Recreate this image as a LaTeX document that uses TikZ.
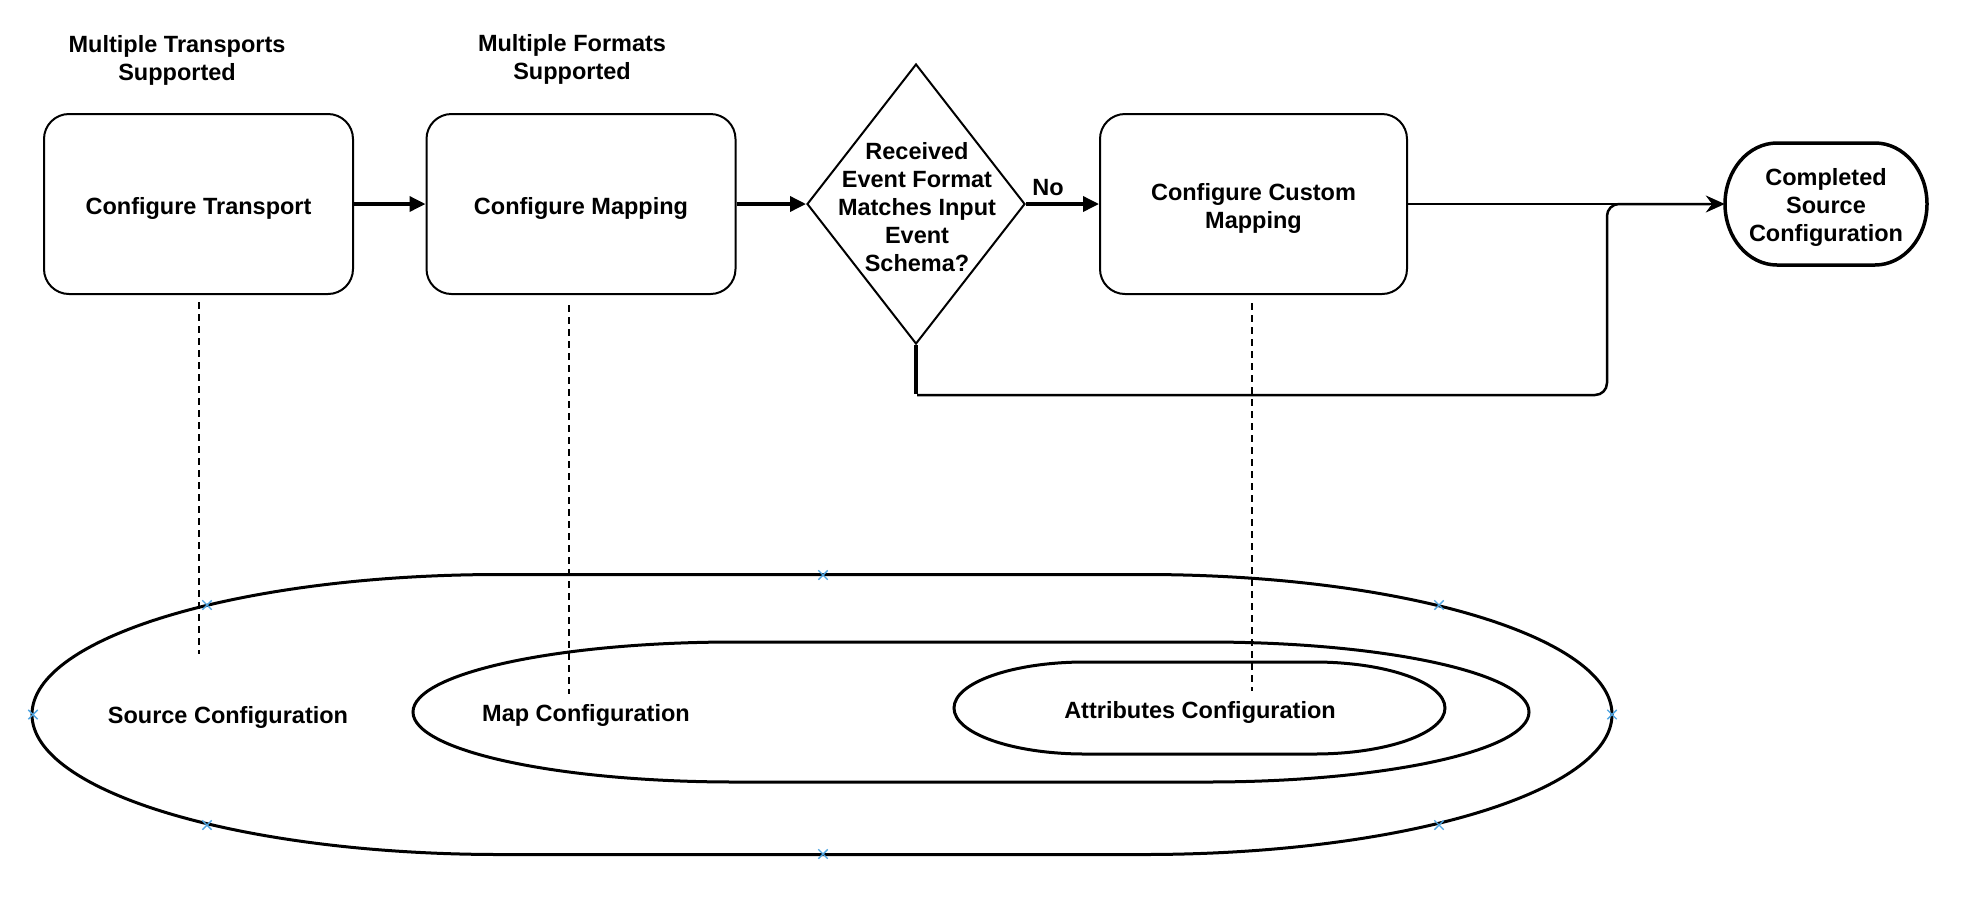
\documentclass[tikz,border=0pt]{standalone}
\usepackage{fontspec}
\setmainfont{Liberation Sans}
\usetikzlibrary{shapes.geometric,shapes.misc,arrows.meta,calc}
\definecolor{crosscol}{RGB}{80,165,225}
\begin{document}
\begin{tikzpicture}[x=1pt,y=-1pt,
  every node/.style={font=\fontsize{23.5pt}{28pt}\selectfont\bfseries, align=center},
  procbox/.style={draw, line width=2pt, rounded corners=25pt, minimum width=309pt, minimum height=180pt, inner sep=0pt},
  flowarrow/.style={line width=3.5pt, -{Triangle[length=16pt,width=15pt]}},
  guide/.style={line width=1.4pt, dash pattern=on 7pt off 5pt},
  setline/.style={line width=3pt},
  loopline/.style={line width=2.5pt},
  pointmark/.style={cross out, draw=crosscol, line width=1.4pt, minimum size=8pt, inner sep=0pt}
]
\useasboundingbox (0,0) rectangle (1984,922);

% headers
\node (hdr1) at (177,60) {Multiple Transports\\Supported};
\node (hdr2) at (572,59) {Multiple Formats\\Supported};

% flow nodes
\node[procbox] (box1) at (198.5,204) {};
\node (box1t) at ([yshift=-4pt]box1.center) {Configure Transport};
\node[procbox] (box2) at (581,204) {};
\node (box2t) at ([yshift=-4pt]box2.center) {Configure Mapping};
\node[diamond, draw, line width=2pt, minimum width=218pt, minimum height=280pt, inner sep=0pt] (dec) at (916,204) {};
\node (dectxt) at (917,207) {Received\\Event Format\\Matches Input\\Event\\Schema?};
\node[procbox, minimum width=307pt] (box3) at (1253.5,204) {};
\node (box3t) at ([yshift=-4pt]box3.center) {Configure Custom\\Mapping};
\node[minimum width=202pt, minimum height=122pt, inner sep=0pt] (endn) at (1826,204) {};
\node (endt) at ([yshift=-3pt]endn.center) {Completed\\Source\\Configuration};
\draw[line width=3.5pt] (1777,143) -- (1875,143) arc[start angle=-90,end angle=90,x radius=52,y radius=61] -- (1777,265) arc[start angle=90,end angle=270,x radius=52,y radius=61] -- cycle;

% connectors
\draw[flowarrow] (box1.east) -- (box2.west);
\draw[flowarrow] (box2.east) -- (dec.west);
\draw[flowarrow] (dec.east) -- (box3.west);
\node (nolab) at (1048,188) {No};
\draw[line width=2pt, -{Stealth[length=19pt,width=17pt]}] (box3.east) -- (endn.west);
\coordinate (lpA) at (916,395);
\coordinate (lpB) at (1607,395);
\coordinate (lpC) at (1607,204);
\draw[line width=4pt] (dec.south) -- ([yshift=1pt]lpA);
\draw[loopline, rounded corners=12pt] ([xshift=1pt]lpA) -- (lpB) -- (lpC) -- ([xshift=-15pt]endn.west);

% nested configuration shapes
\draw[setline] (500,574.5) -- (1144,574.5) arc[start angle=-90,end angle=90,x radius=468,y radius=140] -- (500,854.5) arc[start angle=90,end angle=270,x radius=468,y radius=140] -- cycle;
\draw[setline] (735,642) -- (1207,642) arc[start angle=-90,end angle=90,x radius=322,y radius=70] -- (735,782) arc[start angle=90,end angle=270,x radius=322,y radius=70] -- cycle;
\draw[setline] (1085,662) -- (1314,662) arc[start angle=-90,end angle=90,x radius=131,y radius=46] -- (1085,754) arc[start angle=90,end angle=270,x radius=131,y radius=46] -- cycle;
\node (srclab) at (228,717) {Source Configuration};
\node (maplab) at (586,715) {Map Configuration};
\node (attrlab) at (1200,712) {Attributes Configuration};

% dashed guides
\coordinate (g1) at (199,654);
\coordinate (g2) at (569,694);
\coordinate (g3) at (1252,691);
\draw[guide] (box1.south -| g1) ++(0,7) -- (g1);
\draw[guide] (box2.south -| g2) ++(0,10) -- (g2);
\draw[guide] (box3.south -| g3) ++(0,8) -- (g3);

% connection point marks
\node[pointmark] (m1) at (207,605) {};
\node[pointmark] (m2) at (33,714.5) {};
\node[pointmark] (m3) at (207,825) {};
\node[pointmark] (m4) at (823,575) {};
\node[pointmark] (m5) at (823,854) {};
\node[pointmark] (m6) at (1439,605) {};
\node[pointmark] (m7) at (1612,714.5) {};
\node[pointmark] (m8) at (1439,825) {};
\end{tikzpicture}
\end{document}
